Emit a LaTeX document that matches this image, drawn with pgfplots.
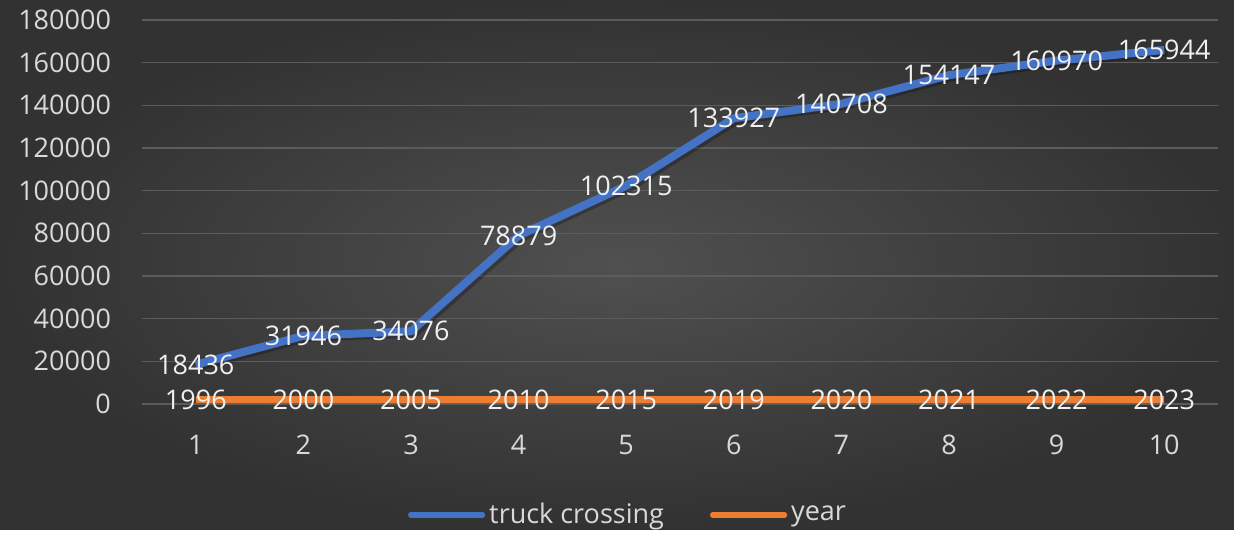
\documentclass[border=0pt]{standalone}
\usepackage{pgfplots}
\pgfplotsset{compat=1.18}
\usepackage{fontspec}
\setmainfont{Open Sans}
\definecolor{blueL}{RGB}{68,114,196}
\definecolor{orangeL}{RGB}{237,125,49}
\definecolor{txt}{RGB}{217,217,217}
\definecolor{lbl}{RGB}{240,240,240}
\definecolor{grd}{RGB}{92,92,92}
\begin{document}
\begin{tikzpicture}
\shade[inner color={rgb,255:red,80;green,80;blue,80}, outer color={rgb,255:red,50;green,50;blue,50}] (0,0) rectangle (617pt,264.5pt);
\begin{axis}[
  at={(71pt,62.5pt)}, anchor=south west,
  scale only axis, width=538pt, height=192pt,
  xmin=0.5, xmax=10.5, ymin=0, ymax=180000,
  xtick={1,...,10}, ytick={0,20000,...,180000},
  scaled y ticks=false,
  xticklabels={1,2,3,4,5,6,7,8,9,10},
  yticklabels={0,20000,40000,60000,80000,100000,120000,140000,160000,180000},
  axis line style={draw=none},
  major tick length=0pt,
  ymajorgrids, grid style={grd, line width=0.75pt},
  clip=false,
  font=\fontsize{13.5}{16}\selectfont,
  tick label style={txt},
  yticklabel style={xshift=-12pt},
  xticklabel style={yshift=-12pt},
  legend style={at={(axis description cs:0.4526,0)}, anchor=center, yshift=-55.5pt,
    draw=none, fill=none, text=txt, font=\fontsize{13.5}{16}\selectfont,
    legend columns=2, /tikz/every even column/.append style={column sep=21pt}},
  legend image code/.code={\draw[#1, line width=2.6pt, line cap=round] (0pt,0pt) -- (36pt,0pt);},
  every node near coord/.append style={anchor=center, lbl, font=\fontsize{13.5}{16}\selectfont},
]
\addplot[black, opacity=0.25, line width=4pt, forget plot] coordinates {
(1.03,17436) (2.03,30946) (3.03,33076) (4.03,77879) (5.03,101315) (6.03,132927) (7.03,139708) (8.03,153147) (9.03,159970) (10.03,164944)};
\addplot[blueL, line width=4pt, line join=round, nodes near coords, point meta=explicit symbolic] coordinates {
(1,18436)[18436] (2,31946)[31946] (3,34076)[34076] (4,78879)[78879] (5,102315)[102315]
(6,133927)[133927] (7,140708)[140708] (8,154147)[154147] (9,160970)[160970] (10,165944)[165944]};
\addlegendentry{truck crossing}
\addplot[orangeL, line width=3.5pt, line join=round, nodes near coords, point meta=explicit symbolic] coordinates {
(1,1996)[1996] (2,2000)[2000] (3,2005)[2005] (4,2010)[2010] (5,2015)[2015]
(6,2019)[2019] (7,2020)[2020] (8,2021)[2021] (9,2022)[2022] (10,2023)[2023]};
\addlegendentry{year}
\end{axis}
\end{tikzpicture}
\end{document}
